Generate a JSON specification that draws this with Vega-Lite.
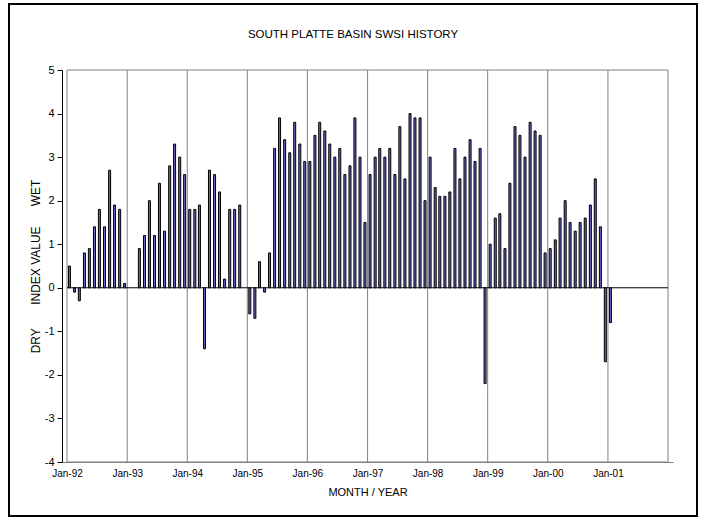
{
  "$schema": "https://vega.github.io/schema/vega-lite/v6.json",
  "width": 688,
  "height": 512,
  "autosize": {"type": "none"},
  "padding": {"left": 9, "top": 4, "right": 9, "bottom": 6},
  "background": "white",
  "config": {"view": {"stroke": "#000000", "strokeWidth": 2}, "font": "Liberation Sans"},
  "title": {"text": "SOUTH PLATTE BASIN SWSI HISTORY", "fontSize": 11.5, "fontWeight": "normal", "color": "#000000", "font": "Liberation Sans", "anchor": "middle", "frame": "group", "orient": "top", "offset": 0, "baseline": "middle", "dy": 42},
  "datasets": {
    "swsi": [
      {"date": "1992-01-16", "value": 0.5}, {"date": "1992-02-16", "value": -0.1}, {"date": "1992-03-16", "value": -0.3},
      {"date": "1992-04-16", "value": 0.8}, {"date": "1992-05-16", "value": 0.9}, {"date": "1992-06-16", "value": 1.4},
      {"date": "1992-07-16", "value": 1.8}, {"date": "1992-08-16", "value": 1.4}, {"date": "1992-09-16", "value": 2.7},
      {"date": "1992-10-16", "value": 1.9}, {"date": "1992-11-16", "value": 1.8}, {"date": "1992-12-16", "value": 0.1},
      {"date": "1993-03-16", "value": 0.9}, {"date": "1993-04-16", "value": 1.2}, {"date": "1993-05-16", "value": 2.0},
      {"date": "1993-06-16", "value": 1.2}, {"date": "1993-07-16", "value": 2.4}, {"date": "1993-08-16", "value": 1.3},
      {"date": "1993-09-16", "value": 2.8}, {"date": "1993-10-16", "value": 3.3}, {"date": "1993-11-16", "value": 3.0},
      {"date": "1993-12-16", "value": 2.6},
      {"date": "1994-01-16", "value": 1.8}, {"date": "1994-02-16", "value": 1.8}, {"date": "1994-03-16", "value": 1.9},
      {"date": "1994-04-16", "value": -1.4}, {"date": "1994-05-16", "value": 2.7}, {"date": "1994-06-16", "value": 2.6},
      {"date": "1994-07-16", "value": 2.2}, {"date": "1994-08-16", "value": 0.2}, {"date": "1994-09-16", "value": 1.8},
      {"date": "1994-10-16", "value": 1.8}, {"date": "1994-11-16", "value": 1.9},
      {"date": "1995-01-16", "value": -0.6}, {"date": "1995-02-16", "value": -0.7}, {"date": "1995-03-16", "value": 0.6},
      {"date": "1995-04-16", "value": -0.1}, {"date": "1995-05-16", "value": 0.8}, {"date": "1995-06-16", "value": 3.2},
      {"date": "1995-07-16", "value": 3.9}, {"date": "1995-08-16", "value": 3.4}, {"date": "1995-09-16", "value": 3.1},
      {"date": "1995-10-16", "value": 3.8}, {"date": "1995-11-16", "value": 3.3}, {"date": "1995-12-16", "value": 2.9},
      {"date": "1996-01-16", "value": 2.9}, {"date": "1996-02-16", "value": 3.5}, {"date": "1996-03-16", "value": 3.8},
      {"date": "1996-04-16", "value": 3.6}, {"date": "1996-05-16", "value": 3.3}, {"date": "1996-06-16", "value": 3.0},
      {"date": "1996-07-16", "value": 3.2}, {"date": "1996-08-16", "value": 2.6}, {"date": "1996-09-16", "value": 2.8},
      {"date": "1996-10-16", "value": 3.9}, {"date": "1996-11-16", "value": 3.0}, {"date": "1996-12-16", "value": 1.5},
      {"date": "1997-01-16", "value": 2.6}, {"date": "1997-02-16", "value": 3.0}, {"date": "1997-03-16", "value": 3.2},
      {"date": "1997-04-16", "value": 3.0}, {"date": "1997-05-16", "value": 3.2}, {"date": "1997-06-16", "value": 2.6},
      {"date": "1997-07-16", "value": 3.7}, {"date": "1997-08-16", "value": 2.5}, {"date": "1997-09-16", "value": 4.0},
      {"date": "1997-10-16", "value": 3.9}, {"date": "1997-11-16", "value": 3.9}, {"date": "1997-12-16", "value": 2.0},
      {"date": "1998-01-16", "value": 3.0}, {"date": "1998-02-16", "value": 2.3}, {"date": "1998-03-16", "value": 2.1},
      {"date": "1998-04-16", "value": 2.1}, {"date": "1998-05-16", "value": 2.2}, {"date": "1998-06-16", "value": 3.2},
      {"date": "1998-07-16", "value": 2.5}, {"date": "1998-08-16", "value": 3.0}, {"date": "1998-09-16", "value": 3.4},
      {"date": "1998-10-16", "value": 2.9}, {"date": "1998-11-16", "value": 3.2}, {"date": "1998-12-16", "value": -2.2},
      {"date": "1999-01-16", "value": 1.0}, {"date": "1999-02-16", "value": 1.6}, {"date": "1999-03-16", "value": 1.7},
      {"date": "1999-04-16", "value": 0.9}, {"date": "1999-05-16", "value": 2.4}, {"date": "1999-06-16", "value": 3.7},
      {"date": "1999-07-16", "value": 3.5}, {"date": "1999-08-16", "value": 3.0}, {"date": "1999-09-16", "value": 3.8},
      {"date": "1999-10-16", "value": 3.6}, {"date": "1999-11-16", "value": 3.5}, {"date": "1999-12-16", "value": 0.8},
      {"date": "2000-01-16", "value": 0.9}, {"date": "2000-02-16", "value": 1.1}, {"date": "2000-03-16", "value": 1.6},
      {"date": "2000-04-16", "value": 2.0}, {"date": "2000-05-16", "value": 1.5}, {"date": "2000-06-16", "value": 1.3},
      {"date": "2000-07-16", "value": 1.5}, {"date": "2000-08-16", "value": 1.6}, {"date": "2000-09-16", "value": 1.9},
      {"date": "2000-10-16", "value": 2.5}, {"date": "2000-11-16", "value": 1.4}, {"date": "2000-12-16", "value": -1.7},
      {"date": "2001-01-16", "value": -0.8}
    ],
    "years": [
      {"date": "1992-01-01"}, {"date": "1993-01-01"}, {"date": "1994-01-01"}, {"date": "1995-01-01"},
      {"date": "1996-01-01"}, {"date": "1997-01-01"}, {"date": "1998-01-01"}, {"date": "1999-01-01"},
      {"date": "2000-01-01"}, {"date": "2001-01-01"}, {"date": "2002-01-01"}
    ],
    "frame": [{"value": 5}, {"value": -4}],
    "zero": [{"value": 0}]
  },
  "layer": [
    {
      "data": {"name": "years"},
      "mark": {"type": "rule", "color": "#808080", "strokeWidth": 1},
      "encoding": {
        "x": {"field": "date", "type": "temporal",
          "scale": {"type": "utc", "domain": [{"year": 1992, "month": 1, "date": 1, "utc": true}, {"year": 2002, "month": 1, "date": 1, "utc": true}], "range": [53, 664]},
          "axis": {"orient": "bottom", "offset": -54, "values": [{"year": 1992, "month": 1, "date": 1, "utc": true}, {"year": 1993, "month": 1, "date": 1, "utc": true}, {"year": 1994, "month": 1, "date": 1, "utc": true}, {"year": 1995, "month": 1, "date": 1, "utc": true}, {"year": 1996, "month": 1, "date": 1, "utc": true}, {"year": 1997, "month": 1, "date": 1, "utc": true}, {"year": 1998, "month": 1, "date": 1, "utc": true}, {"year": 1999, "month": 1, "date": 1, "utc": true}, {"year": 2000, "month": 1, "date": 1, "utc": true}, {"year": 2001, "month": 1, "date": 1, "utc": true}], "labelExpr": "utcFormat(datum.value, '%b-%y')", "grid": false, "ticks": false, "domain": true, "domainColor": "#808080", "domainWidth": 1, "labelFont": "Liberation Sans", "labelFontSize": 10, "labelColor": "#000000", "labelPadding": 6, "labelFlush": false, "labelOverlap": false, "title": "MONTH / YEAR", "titleFont": "Liberation Sans", "titleFontSize": 11, "titleFontWeight": "normal", "titleColor": "#000000", "titlePadding": 8}},
        "y": {"datum": 5, "type": "quantitative",
          "scale": {"domain": [-4, 5], "range": [458, 66], "nice": false, "zero": false},
          "axis": {"orient": "left", "offset": -53, "values": [-4, -3, -2, -1, 0, 1, 2, 3, 4, 5], "labelExpr": "datum.value < 0 ? '-' + abs(datum.value) : '' + datum.value", "grid": false, "domainColor": "#000000", "domainWidth": 1, "tickColor": "#000000", "tickSize": 5, "labelFont": "Liberation Sans", "labelFontSize": 11, "labelColor": "#000000", "labelPadding": 3, "labelFlush": false, "title": "DRY\u00a0\u00a0\u00a0\u00a0\u00a0\u00a0\u00a0INDEX VALUE\u00a0\u00a0\u00a0\u00a0\u00a0\u00a0WET", "titleFont": "Liberation Sans", "titleFontSize": 12, "titleFontWeight": "normal", "titleColor": "#000000", "titlePadding": 2}},
        "y2": {"datum": -4}
      }
    },
    {
      "data": {"name": "frame"},
      "mark": {"type": "rule", "color": "#808080", "strokeWidth": 1},
      "encoding": {
        "y": {"field": "value", "type": "quantitative",
          "scale": {"domain": [-4, 5], "range": [458, 66], "nice": false, "zero": false},
          "axis": {"orient": "left", "offset": -53, "values": [-4, -3, -2, -1, 0, 1, 2, 3, 4, 5], "labelExpr": "datum.value < 0 ? '-' + abs(datum.value) : '' + datum.value", "grid": false, "domainColor": "#000000", "domainWidth": 1, "tickColor": "#000000", "tickSize": 5, "labelFont": "Liberation Sans", "labelFontSize": 11, "labelColor": "#000000", "labelPadding": 3, "labelFlush": false, "title": "DRY\u00a0\u00a0\u00a0\u00a0\u00a0\u00a0\u00a0INDEX VALUE\u00a0\u00a0\u00a0\u00a0\u00a0\u00a0WET", "titleFont": "Liberation Sans", "titleFontSize": 12, "titleFontWeight": "normal", "titleColor": "#000000", "titlePadding": 2}},
        "x": {"datum": {"year": 1992, "month": 1, "date": 1, "utc": true}, "type": "temporal",
          "scale": {"type": "utc", "domain": [{"year": 1992, "month": 1, "date": 1, "utc": true}, {"year": 2002, "month": 1, "date": 1, "utc": true}], "range": [53, 664]},
          "axis": {"orient": "bottom", "offset": -54, "values": [{"year": 1992, "month": 1, "date": 1, "utc": true}, {"year": 1993, "month": 1, "date": 1, "utc": true}, {"year": 1994, "month": 1, "date": 1, "utc": true}, {"year": 1995, "month": 1, "date": 1, "utc": true}, {"year": 1996, "month": 1, "date": 1, "utc": true}, {"year": 1997, "month": 1, "date": 1, "utc": true}, {"year": 1998, "month": 1, "date": 1, "utc": true}, {"year": 1999, "month": 1, "date": 1, "utc": true}, {"year": 2000, "month": 1, "date": 1, "utc": true}, {"year": 2001, "month": 1, "date": 1, "utc": true}], "labelExpr": "utcFormat(datum.value, '%b-%y')", "grid": false, "ticks": false, "domain": true, "domainColor": "#808080", "domainWidth": 1, "labelFont": "Liberation Sans", "labelFontSize": 10, "labelColor": "#000000", "labelPadding": 6, "labelFlush": false, "labelOverlap": false, "title": "MONTH / YEAR", "titleFont": "Liberation Sans", "titleFontSize": 11, "titleFontWeight": "normal", "titleColor": "#000000", "titlePadding": 8}},
        "x2": {"datum": {"year": 2002, "month": 1, "date": 1, "utc": true}}
      }
    },
    {
      "data": {"name": "zero"},
      "mark": {"type": "rule", "color": "#000000", "strokeWidth": 1},
      "encoding": {
        "y": {"field": "value", "type": "quantitative",
          "scale": {"domain": [-4, 5], "range": [458, 66], "nice": false, "zero": false},
          "axis": {"orient": "left", "offset": -53, "values": [-4, -3, -2, -1, 0, 1, 2, 3, 4, 5], "labelExpr": "datum.value < 0 ? '-' + abs(datum.value) : '' + datum.value", "grid": false, "domainColor": "#000000", "domainWidth": 1, "tickColor": "#000000", "tickSize": 5, "labelFont": "Liberation Sans", "labelFontSize": 11, "labelColor": "#000000", "labelPadding": 3, "labelFlush": false, "title": "DRY\u00a0\u00a0\u00a0\u00a0\u00a0\u00a0\u00a0INDEX VALUE\u00a0\u00a0\u00a0\u00a0\u00a0\u00a0WET", "titleFont": "Liberation Sans", "titleFontSize": 12, "titleFontWeight": "normal", "titleColor": "#000000", "titlePadding": 2}},
        "x": {"datum": {"year": 1992, "month": 1, "date": 1, "utc": true}, "type": "temporal",
          "scale": {"type": "utc", "domain": [{"year": 1992, "month": 1, "date": 1, "utc": true}, {"year": 2002, "month": 1, "date": 1, "utc": true}], "range": [53, 664]},
          "axis": {"orient": "bottom", "offset": -54, "values": [{"year": 1992, "month": 1, "date": 1, "utc": true}, {"year": 1993, "month": 1, "date": 1, "utc": true}, {"year": 1994, "month": 1, "date": 1, "utc": true}, {"year": 1995, "month": 1, "date": 1, "utc": true}, {"year": 1996, "month": 1, "date": 1, "utc": true}, {"year": 1997, "month": 1, "date": 1, "utc": true}, {"year": 1998, "month": 1, "date": 1, "utc": true}, {"year": 1999, "month": 1, "date": 1, "utc": true}, {"year": 2000, "month": 1, "date": 1, "utc": true}, {"year": 2001, "month": 1, "date": 1, "utc": true}], "labelExpr": "utcFormat(datum.value, '%b-%y')", "grid": false, "ticks": false, "domain": true, "domainColor": "#808080", "domainWidth": 1, "labelFont": "Liberation Sans", "labelFontSize": 10, "labelColor": "#000000", "labelPadding": 6, "labelFlush": false, "labelOverlap": false, "title": "MONTH / YEAR", "titleFont": "Liberation Sans", "titleFontSize": 11, "titleFontWeight": "normal", "titleColor": "#000000", "titlePadding": 8}},
        "x2": {"datum": {"year": 2002, "month": 1, "date": 1, "utc": true}}
      }
    },
    {
      "data": {"name": "swsi"},
      "mark": {"type": "bar", "width": 2, "fill": "#6666cc", "stroke": "#000000", "strokeWidth": 1},
      "encoding": {
        "x": {"field": "date", "type": "temporal",
          "scale": {"type": "utc", "domain": [{"year": 1992, "month": 1, "date": 1, "utc": true}, {"year": 2002, "month": 1, "date": 1, "utc": true}], "range": [53, 664]},
          "axis": {"orient": "bottom", "offset": -54, "values": [{"year": 1992, "month": 1, "date": 1, "utc": true}, {"year": 1993, "month": 1, "date": 1, "utc": true}, {"year": 1994, "month": 1, "date": 1, "utc": true}, {"year": 1995, "month": 1, "date": 1, "utc": true}, {"year": 1996, "month": 1, "date": 1, "utc": true}, {"year": 1997, "month": 1, "date": 1, "utc": true}, {"year": 1998, "month": 1, "date": 1, "utc": true}, {"year": 1999, "month": 1, "date": 1, "utc": true}, {"year": 2000, "month": 1, "date": 1, "utc": true}, {"year": 2001, "month": 1, "date": 1, "utc": true}], "labelExpr": "utcFormat(datum.value, '%b-%y')", "grid": false, "ticks": false, "domain": true, "domainColor": "#808080", "domainWidth": 1, "labelFont": "Liberation Sans", "labelFontSize": 10, "labelColor": "#000000", "labelPadding": 6, "labelFlush": false, "labelOverlap": false, "title": "MONTH / YEAR", "titleFont": "Liberation Sans", "titleFontSize": 11, "titleFontWeight": "normal", "titleColor": "#000000", "titlePadding": 8}},
        "y": {"field": "value", "type": "quantitative",
          "scale": {"domain": [-4, 5], "range": [458, 66], "nice": false, "zero": false},
          "axis": {"orient": "left", "offset": -53, "values": [-4, -3, -2, -1, 0, 1, 2, 3, 4, 5], "labelExpr": "datum.value < 0 ? '-' + abs(datum.value) : '' + datum.value", "grid": false, "domainColor": "#000000", "domainWidth": 1, "tickColor": "#000000", "tickSize": 5, "labelFont": "Liberation Sans", "labelFontSize": 11, "labelColor": "#000000", "labelPadding": 3, "labelFlush": false, "title": "DRY\u00a0\u00a0\u00a0\u00a0\u00a0\u00a0\u00a0INDEX VALUE\u00a0\u00a0\u00a0\u00a0\u00a0\u00a0WET", "titleFont": "Liberation Sans", "titleFontSize": 12, "titleFontWeight": "normal", "titleColor": "#000000", "titlePadding": 2}}
      }
    }
  ]
}
